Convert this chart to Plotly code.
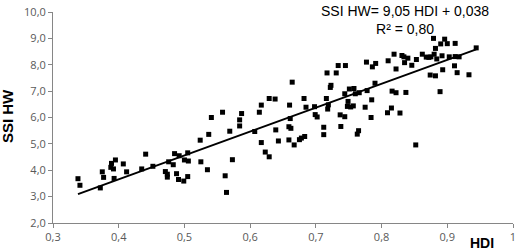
import plotly.graph_objects as go

hdi = [0.338, 0.341, 0.372, 0.375, 0.377, 0.388, 0.389, 0.392, 0.395, 0.393,
       0.407, 0.412, 0.435, 0.441, 0.452,
       0.471, 0.474, 0.474, 0.476, 0.483, 0.485, 0.488, 0.491, 0.492, 0.499,
       0.500, 0.505, 0.505, 0.506, 0.524, 0.525, 0.535, 0.537, 0.541, 0.558,
       0.562, 0.564, 0.569, 0.573, 0.584, 0.584, 0.587, 0.607, 0.614, 0.617,
       0.617,
       0.629, 0.638, 0.660, 0.664, 0.682, 0.685, 0.698, 0.716, 0.717, 0.719,
       0.718, 0.722, 0.723, 0.731, 0.734, 0.745, 0.744, 0.751, 0.758, 0.749,
       0.748, 0.753, 0.757, 0.699, 0.702, 0.737, 0.744,
       0.661, 0.639, 0.659, 0.662, 0.712, 0.738, 0.765, 0.763, 0.643, 0.659,
       0.667, 0.675, 0.678, 0.683, 0.712, 0.623, 0.629,
       0.760, 0.766, 0.775, 0.777, 0.778, 0.785, 0.786, 0.791, 0.790, 0.784,
       0.809, 0.815, 0.816, 0.822, 0.828, 0.837, 0.810, 0.819, 0.822, 0.831,
       0.834, 0.835, 0.840, 0.846, 0.853, 0.862, 0.868, 0.872, 0.875, 0.874,
       0.882, 0.880, 0.884, 0.892, 0.879, 0.882, 0.890, 0.896, 0.900, 0.912,
       0.889, 0.893, 0.903, 0.911, 0.915, 0.912, 0.918, 0.933, 0.944, 0.852]

ssi_hw = [3.68, 3.43, 3.33, 3.94, 3.73, 4.11, 4.26, 4.05, 4.39, 3.69,
          4.24, 3.94, 4.05, 4.61, 4.15,
          3.95, 3.85, 3.74, 4.32, 4.21, 4.63, 3.87, 3.65, 4.55, 3.59,
          4.39, 4.66, 3.76, 4.35, 5.14, 4.32, 4.02, 5.36, 6.00, 6.20,
          3.79, 3.16, 5.48, 4.40, 5.68, 5.91, 6.15, 5.47, 6.20, 6.47,
          5.05,
          6.72, 6.70, 6.47, 7.34, 6.72, 6.39, 6.41, 6.72, 7.69, 6.48,
          6.32, 7.14, 7.22, 7.69, 7.97, 7.97, 6.90, 7.08, 7.10, 6.61,
          6.42, 6.40, 6.44, 6.11, 6.02, 6.10, 6.03,
          5.96, 5.53, 5.65, 5.59, 5.63, 5.66, 5.50, 5.37, 5.11, 5.15,
          4.96, 5.16, 5.22, 5.28, 5.35, 4.69, 4.51,
          6.90, 6.94, 6.39, 8.10, 7.02, 6.67, 7.92, 8.05, 7.30, 6.00,
          6.18, 6.36, 7.00, 6.94, 6.17, 6.95, 8.15, 8.40, 7.84, 8.35,
          8.30, 8.08, 8.25, 7.98, 8.20, 8.40, 8.29, 8.28, 8.30, 7.61,
          7.58, 8.40, 8.22, 8.34, 9.00, 8.62, 8.79, 8.97, 8.80, 8.81,
          6.98, 7.81, 8.30, 7.96, 7.70, 8.31, 8.30, 7.62, 8.64, 4.96]

fit_slope = 9.05
fit_intercept = 0.038
fit_label = "SSI HW= 9,05 HDI + 0,038<br>R² = 0,80"

x_tick_vals = [0.3, 0.4, 0.5, 0.6, 0.7, 0.8, 0.9, 1.0]
x_tick_text = ["0,3", "0,4", "0,5", "0,6", "0,7", "0,8", "0,9", "1"]
y_tick_vals = [2, 3, 4, 5, 6, 7, 8, 9, 10]
y_tick_text = ["2,0", "3,0", "4,0", "5,0", "6,0", "7,0", "8,0", "9,0", "10,0"]

x_fit = [min(hdi), max(hdi)]
y_fit = [fit_slope * v + fit_intercept for v in x_fit]

fig = go.Figure()
fig.add_trace(go.Scatter(x=hdi, y=ssi_hw, mode="markers",
                         marker=dict(symbol="square", size=5, color="black",
                                     line=dict(width=0)),
                         showlegend=False, hoverinfo="skip", cliponaxis=False))
fig.add_trace(go.Scatter(x=x_fit, y=y_fit, mode="lines",
                         line=dict(color="black", width=2),
                         showlegend=False, hoverinfo="skip"))

axis_common = dict(showgrid=False, zeroline=False, showline=True,
                   linecolor="#868686", linewidth=1, ticks="outside",
                   ticklen=4, tickcolor="#868686", tickwidth=1,
                   ticklabeloverflow="allow",
                   tickfont=dict(family="Open Sans, Arial", size=11, color="#595959"))

fig.update_xaxes(range=[0.3, 1.0], tickmode="array", tickvals=x_tick_vals,
                 ticktext=x_tick_text, **axis_common)
fig.update_yaxes(range=[2, 10], tickmode="array", tickvals=y_tick_vals,
                 ticktext=y_tick_text, **axis_common)

fig.add_annotation(text=fit_label, xref="paper", yref="paper", x=0.7657, y=0.961,
                   xanchor="center", yanchor="middle", showarrow=False,
                   font=dict(family="Liberation Sans, Arial", size=14, color="black"))
fig.add_annotation(text="<b>HDI</b>", xref="paper", yref="paper", x=0.933, y=-0.093,
                   xanchor="center", yanchor="middle", showarrow=False,
                   font=dict(family="Liberation Sans, Arial", size=14, color="black"))
fig.add_annotation(text="<b>SSI HW</b>", xref="paper", yref="paper", x=-0.099, y=0.509,
                   xanchor="center", yanchor="middle", showarrow=False, textangle=-90,
                   font=dict(family="Liberation Sans, Arial", size=15, color="black"))

fig.update_layout(width=520, height=250, margin=dict(l=53, r=4, t=7, b=27),
                  paper_bgcolor="white", plot_bgcolor="white")

fig.write_html("out.html", config={"displayModeBar": False, "staticPlot": True},
               post_script="document.body.style.margin='0';document.body.style.padding='0';")
